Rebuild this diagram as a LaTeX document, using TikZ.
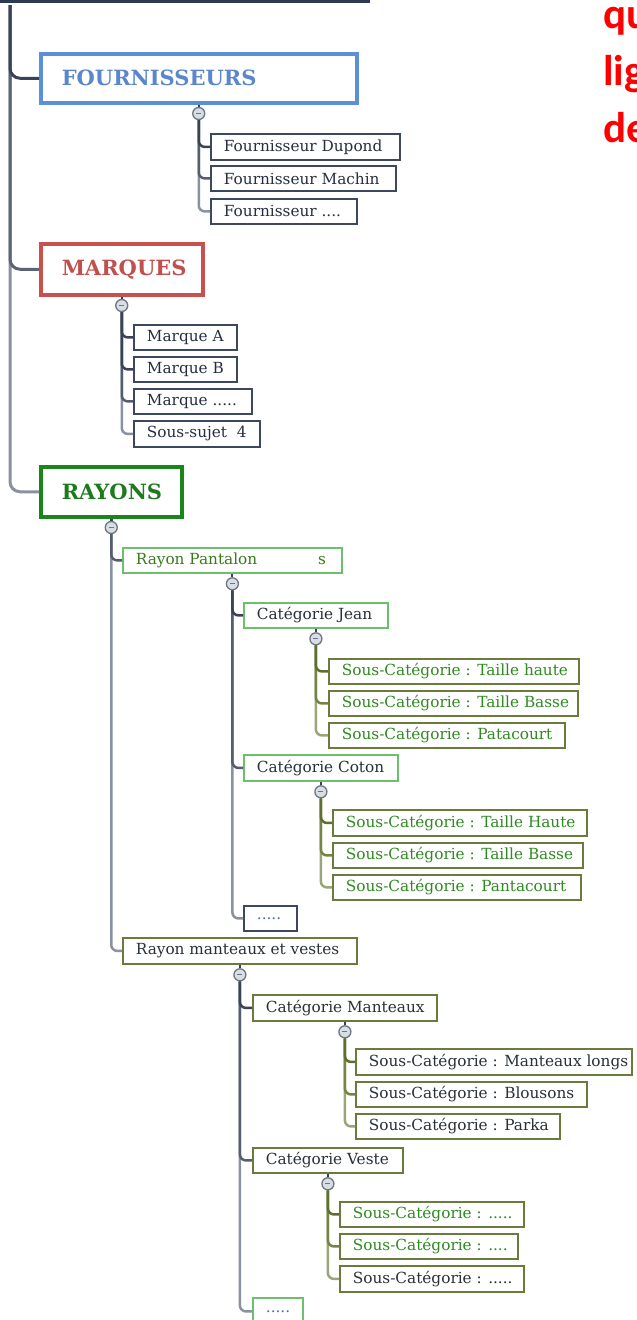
\documentclass[tikz,border=0pt]{standalone}
\usepackage{fontspec}
\setmainfont{DejaVu Serif}
\newfontfamily\calib{Carlito}
\definecolor{rootc}{HTML}{2D3A55}
\definecolor{trunkd}{HTML}{3A4356}
\definecolor{trunkm}{HTML}{5C6375}
\definecolor{trunkl}{HTML}{8A909C}
\definecolor{bluec}{HTML}{5B8FD8}
\definecolor{bluet}{HTML}{5A86CC}
\definecolor{redc}{HTML}{C8504D}
\definecolor{redt}{HTML}{C0504D}
\definecolor{greenc}{HTML}{1A861A}
\definecolor{greent}{HTML}{1E7A1E}
\definecolor{navyb}{HTML}{3D4760}
\definecolor{navyt}{HTML}{262E40}
\definecolor{lgreen}{HTML}{6CBF6C}
\definecolor{pant}{HTML}{3A7A1C}
\definecolor{olive}{HTML}{6B7B3E}
\definecolor{oliveb}{HTML}{5E6E30}
\definecolor{olivem}{HTML}{758345}
\definecolor{olivel}{HTML}{9AA67A}
\definecolor{sct}{HTML}{2F8A22}
\definecolor{darkt}{HTML}{283038}
\definecolor{dotc}{HTML}{4A6FA5}
\definecolor{togf}{HTML}{D9DDE4}
\definecolor{togd}{HTML}{6E7686}
\definecolor{ld}{HTML}{3A4356}
\definecolor{lm}{HTML}{555D6F}
\definecolor{ll}{HTML}{8A92A2}
\newcommand\tb[2]{\makebox[#1pt][l]{#2}}
\tikzset{
  rootbox/.style={draw=rootc, line width=5pt, fill=white, inner sep=0pt},
  hbox/.style={draw=#1, line width=3.5pt, fill=white, inner xsep=21pt, inner ysep=0pt,
    anchor=north west, font=\fontsize{21}{24}\selectfont\bfseries},
  sbox/.style={draw=#1, line width=1.8pt, fill=white, inner xsep=13pt, inner ysep=0pt,
    anchor=north west, minimum height=25pt, font=\fontsize{15.3}{18}\selectfont},
  tog/.style={circle, draw=togd, fill=togf, line width=1.3pt, minimum size=12pt, inner sep=0pt,
    path picture={\draw[line width=0.8pt, togd] ([xshift=-2.5pt]path picture bounding box.center) -- ([xshift=2.5pt]path picture bounding box.center);}},
  trunk/.style={line width=3pt, rounded corners=10pt},
  link/.style={line width=2.5pt, rounded corners=6pt},
  redtxt/.style={anchor=base west, inner sep=0pt, text=red, font=\calib\bfseries\fontsize{43}{52}\selectfont},
}
\begin{document}
\begin{tikzpicture}[x=1pt, y=-1pt]
\useasboundingbox[fill=white] (0,0) rectangle (637,1320);

% root (cut by top edge)
\node[rootbox, anchor=south east, minimum width=420pt, minimum height=60pt] (root) at (370,3) {};
\coordinate (t0) at (10,5);

% red text at right (cut by the right edge, as in the reference)
\node[redtxt] (q1) at (603,28) {qu};
\node[redtxt] (q2) at (603,85) {lig};
\node[redtxt] (q3) at (603,142) {de};

% main categories
\node[hbox=bluec, text=bluet, minimum height=49pt] (F) at (39,52) {\tb{274}{FOURNISSEURS}};
\node[hbox=redc, text=redt, minimum height=51pt] (M) at (39,242) {\tb{120}{MARQUES}};
\node[hbox=greenc, text=greent, minimum height=50pt] (R) at (39,465) {\tb{99}{RAYONS}};

% fournisseurs
\node[sbox=navyb, text=navyt, minimum height=26pt] (F1) at (210,133) {\tb{163}{Fournisseur Dupond}};
\node[sbox=navyb, text=navyt] (F2) at (210,165) {\tb{159}{Fournisseur Machin}};
\node[sbox=navyb, text=navyt] (F3) at (210,198) {\tb{120}{Fournisseur ....}};

% marques
\node[sbox=navyb, text=navyt] (M1) at (133,324) {\tb{77}{Marque A}};
\node[sbox=navyb, text=navyt] (M2) at (133,356) {\tb{77}{Marque B}};
\node[sbox=navyb, text=navyt] (M3) at (133,388) {\tb{92}{Marque .....}};
\node[sbox=navyb, text=navyt, minimum height=26pt] (M4) at (133,420) {\tb{100}{Sous-sujet\hspace{5pt} 4}};

% rayon pantalon
\node[sbox=lgreen, text=pant] (R1) at (122,547) {\tb{193}{Rayon Pantalon\hfill s\hspace{3pt}}};
\node[sbox=lgreen, text=darkt] (J) at (243,602) {\tb{118}{Catégorie Jean}};
\node[sbox=olive, text=sct] (J1) at (328,658) {\tb{224}{Sous-Catégorie : Taille haute}};
\node[sbox=olive, text=sct] (J2) at (328,690) {\tb{223}{Sous-Catégorie : Taille Basse}};
\node[sbox=olive, text=sct] (J3) at (328,722) {\tb{210}{Sous-Catégorie : Patacourt}};
\node[sbox=lgreen, text=darkt, minimum height=26pt] (C) at (243,754) {\tb{128}{Catégorie Coton}};
\node[sbox=olive, text=sct, minimum height=26pt] (C1) at (332,809) {\tb{228}{Sous-Catégorie : Taille Haute}};
\node[sbox=olive, text=sct] (C2) at (332,842) {\tb{224}{Sous-Catégorie : Taille Basse}};
\node[sbox=olive, text=sct] (C3) at (332,874) {\tb{222}{Sous-Catégorie : Pantacourt}};
\node[sbox=navyb, text=dotc] (D1) at (243,905) {\tb{27}{.....}};

% rayon manteaux
\node[sbox=olive, text=darkt, minimum height=26pt] (R2) at (122,937) {\tb{208}{Rayon manteaux et vestes}};
\node[sbox=olive, text=darkt, minimum height=26pt] (K) at (252,994) {\tb{158}{Catégorie Manteaux}};
\node[sbox=olive, text=darkt, minimum height=26pt] (K1) at (355,1048) {\tb{250}{Sous-Catégorie : Manteaux longs}};
\node[sbox=olive, text=darkt] (K2) at (355,1081) {\tb{205}{Sous-Catégorie : Blousons}};
\node[sbox=olive, text=darkt] (K3) at (355,1113) {\tb{178}{Sous-Catégorie : Parka}};
\node[sbox=olive, text=darkt] (V) at (252,1147) {\tb{124}{Catégorie Veste}};
\node[sbox=olive, text=sct] (V1) at (339,1201) {\tb{158}{Sous-Catégorie : .....}};
\node[sbox=olive, text=sct] (V2) at (339,1233) {\tb{152}{Sous-Catégorie : ....}};
\node[sbox=olive, text=darkt, minimum height=26pt] (V3) at (339,1265) {\tb{158}{Sous-Catégorie : .....}};
\node[sbox=lgreen, text=dotc, minimum height=27pt] (D2) at (252,1297) {\tb{24}{.....}};

% toggles
\foreach \p in {F,M,R}{\node[tog] (c\p) at ([yshift=-9pt]\p.south) {};}
\foreach \p in {R1,J,C,R2,K,V}{\node[tog] (c\p) at ([yshift=-10pt]\p.south) {};}

% trunk
\draw[trunk, trunkl] (t0) |- (R.west);
\draw[trunk, trunkm] (t0) |- (M.west);
\draw[trunk, trunkd] (t0) |- (F.west);

% stems box -> toggle
\foreach \p in {F,M,R}{\draw[line width=2.5pt, ld] (\p.south) -- (c\p.north);}
\foreach \p in {R1,J,C,R2,K,V}{\draw[line width=2pt, ld] (\p.south) -- (c\p.north);}

% fournisseurs links
\draw[link, ll] (cF.south) |- (F3.west);
\draw[link, lm] (cF.south) |- (F2.west);
\draw[link, ld] (cF.south) |- (F1.west);
% marques links
\draw[link, ll] (cM.south) |- (M4.west);
\draw[link, lm] (cM.south) |- (M3.west);
\draw[link, ld] (cM.south) |- (M2.west);
\draw[link, ld] (cM.south) |- (M1.west);
% rayons links
\draw[link, ll] (cR.south) |- (R2.west);
\draw[link, lm] (cR.south) |- (R1.west);
% pantalon links
\draw[link, ll] (cR1.south) |- (D1.west);
\draw[link, lm] (cR1.south) |- (C.west);
\draw[link, ld] (cR1.south) |- (J.west);
\draw[link, olivel] (cJ.south) |- (J3.west);
\draw[link, olivem] (cJ.south) |- (J2.west);
\draw[link, oliveb] (cJ.south) |- (J1.west);
\draw[link, olivel] (cC.south) |- (C3.west);
\draw[link, olivem] (cC.south) |- (C2.west);
\draw[link, oliveb] (cC.south) |- (C1.west);
% manteaux links
\draw[link, ll] (cR2.south) |- (D2.west);
\draw[link, lm] (cR2.south) |- (V.west);
\draw[link, ld] (cR2.south) |- (K.west);
\draw[link, olivel] (cK.south) |- (K3.west);
\draw[link, olivem] (cK.south) |- (K2.west);
\draw[link, oliveb] (cK.south) |- (K1.west);
\draw[link, olivel] (cV.south) |- (V3.west);
\draw[link, olivem] (cV.south) |- (V2.west);
\draw[link, oliveb] (cV.south) |- (V1.west);
\end{tikzpicture}
\end{document}
